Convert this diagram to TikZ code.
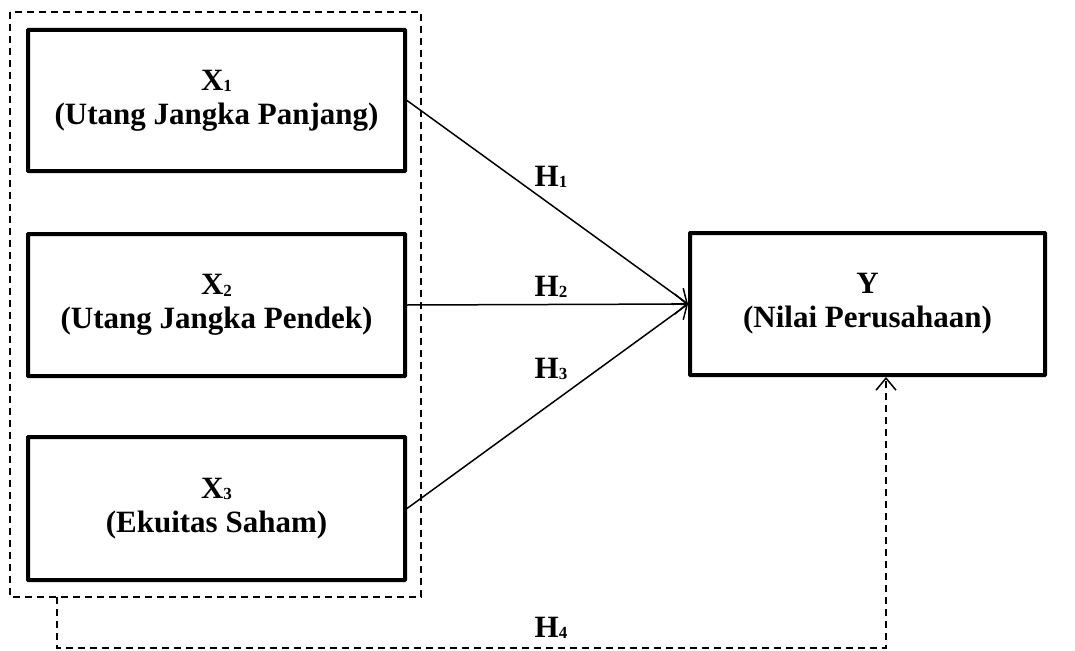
\documentclass[tikz,border=0pt]{standalone}
\usepackage{fontspec}
\setmainfont{Liberation Serif}
\usetikzlibrary{arrows.meta}
\newcommand{\idx}[1]{\raisebox{-1.5pt}{\fontsize{17}{17}\selectfont #1}}

\begin{document}
\begin{tikzpicture}[
    x=1pt, y=-1pt,
    variabel/.style={draw, line width=4pt, rounded corners=0.5pt, align=center, inner sep=0pt, font=\bfseries\fontsize{31}{34}\selectfont},
    panah/.style={line width=1.5pt, -{Straight Barb[length=12pt, width=20pt, line width=1.5pt]}},
    garis_putus/.style={line width=1.8pt, dash pattern=on 7pt off 5pt},
    label_h/.style={font=\bfseries\fontsize{31}{34}\selectfont, inner sep=0pt}
]
\useasboundingbox (0, 0) rectangle (1075, 650);

% --- Kelompok variabel bebas ---
\draw[garis_putus] (10, 12) rectangle (421, 597);

% --- Variabel X ---
\node[variabel, minimum width=377pt, minimum height=141pt] (x1) at (216.5, 100.5) {X\idx{1}\\(Utang Jangka Panjang)};
\node[variabel, minimum width=377pt, minimum height=142pt] (x2) at (216.5, 305) {X\idx{2}\\(Utang Jangka Pendek)};
\node[variabel, minimum width=377pt, minimum height=143pt] (x3) at (216.5, 508.5) {X\idx{3}\\(Ekuitas Saham)};

% --- Variabel Y ---
\node[variabel, minimum width=355pt, minimum height=142pt] (y) at (867.5, 304) {Y\\(Nilai Perusahaan)};

% --- Hipotesis H1, H2, H3 ---
\draw[panah] (x1.east) -- (y.west);
\draw[panah] (x2.east) -- (y.west);
\draw[panah] (x3.east) -- (y.west);
\node[label_h] (h1) at (551, 177) {H\idx{1}};
\node[label_h] (h2) at (551, 287) {H\idx{2}};
\node[label_h] (h3) at (551, 369) {H\idx{3}};

% --- Hipotesis H4 (simultan) ---
\coordinate (h4_awal) at (57, 597);
\coordinate (h4_akhir) at (886, 377);
\draw[garis_putus, -{Straight Barb[length=12pt, width=20pt, line width=1.5pt]}] (h4_awal) -- (57, 648) -- (886, 648) -- (h4_akhir);
\node[label_h] (h4) at (551, 628) {H\idx{4}};

\end{tikzpicture}
\end{document}
